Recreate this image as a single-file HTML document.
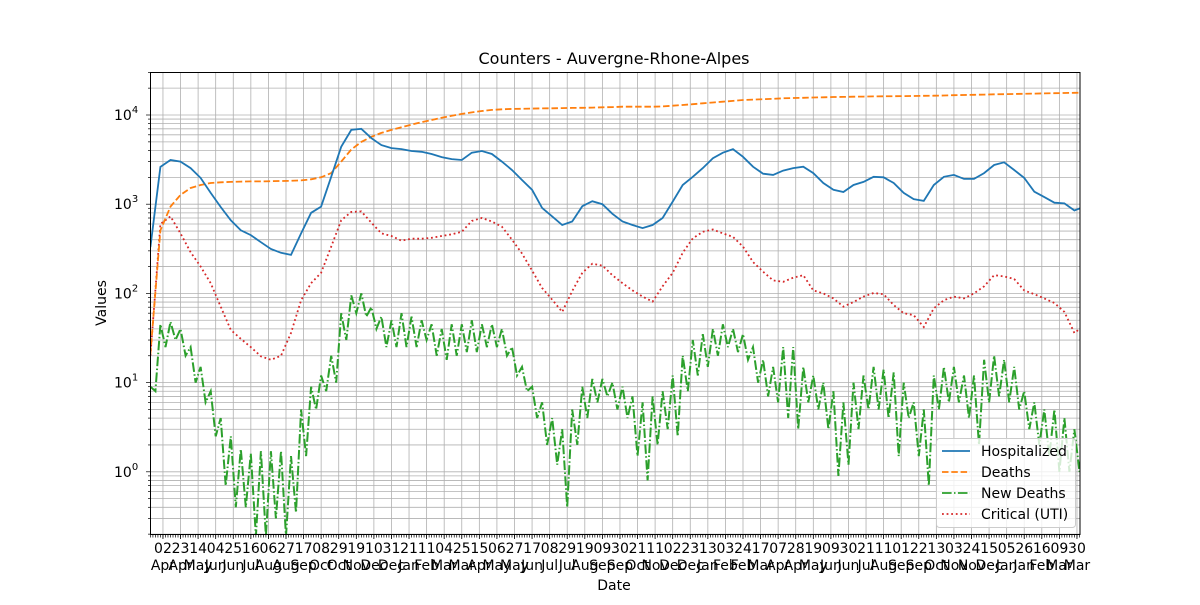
<!DOCTYPE html>
<html><head><meta charset="utf-8"><style>
body{margin:0;background:#fff;}
svg text{font-family:"DejaVu Sans","Liberation Sans",sans-serif;fill:#000;}
</style></head><body>
<svg id="chart" width="1200" height="600" viewBox="0 0 1200 600" xmlns="http://www.w3.org/2000/svg">
<rect width="1200" height="600" fill="#fff"/>
<defs><clipPath id="plotclip"><rect x="150" y="72" width="930" height="463"/></clipPath></defs>
<g id="grid"></g>
<g id="series" clip-path="url(#plotclip)"></g>
<rect x="150.5" y="72.5" width="929.5" height="462" fill="none" stroke="#000" stroke-width="1"/>
<g id="axes"></g>
<text x="614" y="64" font-size="16" text-anchor="middle">Counters - Auvergne-Rhone-Alpes</text>
<text x="614" y="590" font-size="14" text-anchor="middle">Date</text>
<text x="106" y="303" font-size="14" text-anchor="middle" transform="rotate(-90 106 303)">Values</text>
<g>
<rect x="936.5" y="438.5" width="139" height="89" rx="3" fill="#fff" fill-opacity="0.8" stroke="#ccc"/>
<g><line x1="942" y1="451" x2="970" y2="451" stroke="#1f77b4" stroke-width="1.8"/><text x="981" y="456" font-size="14">Hospitalized</text></g>
<g><line x1="942" y1="472" x2="970" y2="472" stroke="#ff7f0e" stroke-width="1.8" stroke-dasharray="6.5,2.8"/><text x="981" y="477" font-size="14">Deaths</text></g>
<g><line x1="942" y1="493" x2="970" y2="493" stroke="#2ca02c" stroke-width="1.8" stroke-dasharray="9.6,2.4,1.5,2.4"/><text x="981" y="498" font-size="14">New Deaths</text></g>
<g><line x1="942" y1="514" x2="970" y2="514" stroke="#d62728" stroke-width="1.8" stroke-dasharray="1.8,2.8"/><text x="981" y="519" font-size="14">Critical (UTI)</text></g>
</g>
</svg>
<script>
// Data sampled every 12 days starting 2020-03-18
const startDate = "2020-03-18";
const sampleStepDays = 12;
const hospitalized = [330,2620,3130,3000,2540,1970,1340,930,660,510,450,375,315,285,270,470,800,940,2030,4400,6800,7000,5500,4600,4250,4150,3950,3870,3650,3370,3200,3130,3780,3950,3650,3000,2420,1870,1450,910,730,585,640,950,1080,1000,780,640,585,540,585,700,1070,1640,2030,2540,3280,3780,4150,3400,2630,2200,2130,2380,2540,2630,2230,1730,1450,1370,1640,1780,2030,2000,1730,1340,1140,1090,1640,2030,2130,1920,1920,2230,2750,2950,2420,1970,1380,1200,1040,1020,850,940];
const deaths = [21,510,940,1270,1520,1640,1730,1760,1780,1790,1800,1800,1810,1820,1830,1850,1900,2000,2230,3000,4100,5000,5700,6300,6800,7300,7800,8300,8800,9300,9800,10300,10700,11100,11400,11600,11700,11750,11800,11850,11900,11950,12000,12050,12100,12200,12250,12390,12400,12400,12400,12500,12700,12950,13200,13530,13800,14100,14400,14720,14900,15050,15200,15380,15500,15600,15700,15800,15900,15950,16040,16100,16150,16200,16250,16300,16350,16400,16460,16550,16650,16750,16850,16950,17050,17120,17190,17280,17370,17460,17550,17640,17720,17780];
const critical = [20,600,730,470,290,200,130,71,39,31,25,19.7,18,20,36,84,130,170,335,660,820,830,620,470,440,390,410,410,420,440,460,490,650,700,640,560,400,280,180,115,85,62,106,170,215,205,160,130,108,92,81,120,170,285,415,490,520,470,430,335,225,175,140,135,150,160,108,100,88,71,80,92,101,98,74,60,57,42,68,84,92,88,100,120,160,155,145,108,98,88,78,62,36,44];
const newDeathsHigh = [9,45,48,40,25,15,8,4,2.5,1.8,1.6,1.7,1.7,1.7,1.5,5,9,12,20,60,95,100,70,55,50,60,55,50,45,40,45,45,50,45,45,40,25,15,9,6,4,3,5,9,11,11,10,9,7,6,7,8,12,20,30,35,40,45,40,35,25,18,15,25,25,15,12,10,8,6,10,12,15,14,13,10,6,5,12,15,15,12,12,18,20,18,15,8,6,5,5,4,3,4];
const newDeathsLow = [8,25,30,20,10,6,2.5,0.7,0.4,0.4,0.19,0.19,0.3,0.19,0.35,1.5,5,8,10,30,60,55,40,25,25,25,25,30,20,18,20,22,22,25,25,20,12,8,4,2,1.2,0.4,2,4,6,7,5,4,1.5,0.8,2,3,2.5,8,12,15,20,25,22,18,10,7,6,4,3,6,5,3,0.9,1.2,3,5,5,4,1.5,4,1.5,0.7,5,6,6,4,2,6,7,6,5,3,2,1.5,1,1,1,1.5];
const yTickExps = [0,1,2,3,4];
const monthNames = ["Jan","Feb","Mar","Apr","May","Jun","Jul","Aug","Sep","Oct","Nov","Dec"];

const NS = "http://www.w3.org/2000/svg";
const X0 = 150.4, PXD = 0.837;
const xDay = d => X0 + PXD * d;
const yVal = v => 115 + (4 - Math.log10(v)) * 89.2;
const PL = 150, PR = 1080, PT = 72, PB = 535;
function mk(tag, attrs, parent) {
  const e = document.createElementNS(NS, tag);
  for (const k in attrs) e.setAttribute(k, attrs[k]);
  parent.appendChild(e);
  return e;
}
const grid = document.getElementById("grid");
const axes = document.getElementById("axes");
const series = document.getElementById("series");
const start = new Date(startDate + "T00:00:00Z");

for (let d = 15; xDay(d) <= PR; d += 21) {
  const x = xDay(d);
  const gl = mk("line", {x1: x, x2: x, y1: PT, y2: PB, stroke: "#b0b0b0", "stroke-width": 0.8}, grid);
  
  
  mk("line", {x1: x, x2: x, y1: PB, y2: PB + 4, stroke: "#000", "stroke-width": 0.8}, axes);
  const dt = new Date(start.getTime() + d * 86400000);
  const t1 = mk("text", {x: x, y: 553, "font-size": 14, "text-anchor": "middle"}, axes);
  t1.textContent = String(dt.getUTCDate()).padStart(2, "0");
  
  
  const t2 = mk("text", {x: x, y: 570, "font-size": 14, "text-anchor": "middle"}, axes);
  t2.textContent = monthNames[dt.getUTCMonth()];
  
  
}
for (let d = 0; xDay(d) <= PR; d += 3) {
  mk("line", {x1: xDay(d), x2: xDay(d), y1: PB, y2: PB + 2.5, stroke: "#000", "stroke-width": 0.7}, axes);
}
for (let e = -1; e <= 4; e++) {
  for (let m = 1; m <= 9; m++) {
    const v = m * Math.pow(10, e);
    const y = yVal(v);
    if (y < PT || y > PB) continue;
    const gl = mk("line", {x1: PL, x2: PR, y1: y, y2: y, stroke: "#b0b0b0", "stroke-width": 0.8}, grid);
    
    
    mk("line", {x1: PL - (m === 1 ? 4 : 2), x2: PL, y1: y, y2: y, stroke: "#000", "stroke-width": 0.7}, axes);
  }
}
yTickExps.forEach(e => {
  const y = yVal(Math.pow(10, e));
  const t = mk("text", {x: 114, y: y + 5, "font-size": 14}, axes);
  
  
  t.textContent = "10";
  const s = mk("tspan", {dy: -7, "font-size": 10}, t);
  s.textContent = String(e);
});

function linePath(vals, offset) {
  return vals.map((v, i) => (i ? "L" : "M") + xDay(i * sampleStepDays + (offset || 0)).toFixed(1) + "," + yVal(v).toFixed(1)).join(" ");
}
let nd = [];
newDeathsHigh.forEach((h, i) => {
  nd.push([i * sampleStepDays, h]);
  if (i < newDeathsLow.length) nd.push([i * sampleStepDays + 6, newDeathsLow[i]]);
});
const ndp = nd.map((p, i) => (i ? "L" : "M") + xDay(p[0]).toFixed(1) + "," + yVal(p[1]).toFixed(1)).join(" ");

const pNew = mk("path", {d: ndp, fill: "none", stroke: "#2ca02c", "stroke-width": 2, "stroke-dasharray": "9.6,2.4,1.5,2.4"}, series);


const pCrit = mk("path", {d: linePath(critical), fill: "none", stroke: "#d62728", "stroke-width": 1.8, "stroke-dasharray": "1.8,2.8"}, series);


const pDeaths = mk("path", {d: linePath(deaths), fill: "none", stroke: "#ff7f0e", "stroke-width": 1.8, "stroke-dasharray": "6.5,2.8"}, series);


const pHosp = mk("path", {d: linePath(hospitalized), fill: "none", stroke: "#1f77b4", "stroke-width": 1.8}, series);


</script>
</body></html>
